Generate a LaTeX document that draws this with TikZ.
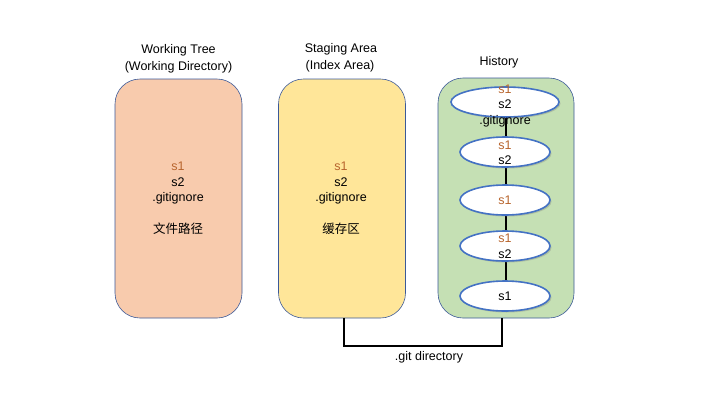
\documentclass[tikz,border=0pt]{standalone}
\usepackage{fontspec}
\setmainfont{Liberation Sans}
\newfontfamily\cjk{Noto Sans CJK SC}
\usetikzlibrary{shapes.geometric,shadows}
\definecolor{boxline}{HTML}{3B5998}
\definecolor{orangefill}{HTML}{F8CBAD}
\definecolor{yellowfill}{HTML}{FFE699}
\definecolor{greenfill}{HTML}{C5E0B4}
\definecolor{ellline}{HTML}{4472C4}
\definecolor{sone}{HTML}{B8652E}
\begin{document}
\begin{tikzpicture}[x=1pt,y=-1pt,
  every node/.style={font=\fontsize{12.5}{14}\selectfont, inner sep=0pt},
  area/.style={draw=boxline, line width=0.6pt, rounded corners=25pt, minimum width=127pt, minimum height=239pt},
  commit/.style={ellipse, draw=ellline, line width=1.6pt, fill=white, minimum width=90pt, minimum height=30pt,
     drop shadow={opacity=0.35, shadow xshift=1.5pt, shadow yshift=-1.5pt}},
  sn/.style={text=sone},
  link/.style={line width=1.5pt, black}]
\useasboundingbox (0,0) rectangle (720,405);
% areas
\node[area, fill=orangefill] (b1) at (178.5,198.5) {};
\node[area, fill=yellowfill] (b2) at (342,198.5) {};
\node[area, fill=greenfill, minimum width=136pt, minimum height=240pt] (b3) at (506,198) {};
% titles
\node (t1a) at (178.5,50) {Working Tree};
\node (t1b) at (178.5,67) {(Working Directory)};
\node (t2a) at (341,49) {Staging Area};
\node (t2b) at (340,66) {(Index Area)};
\node (t3) at (499,62) {History};
% area contents
\node[sn] (w1) at (178,166) {s1};
\node (w2) at (178,182) {s2};
\node (w3) at (178,198) {.gitignore};
\node (w4) at (178,229) {\cjk 文件路径};
\node[sn] (i1) at (341,166) {s1};
\node (i2) at (341,182) {s2};
\node (i3) at (341,198) {.gitignore};
\node (i4) at (341,229) {\cjk 缓存区};
% commits
\coordinate (ctop) at (506,102);
\coordinate (cbot) at (506,296);
\draw[link] (ctop) -- (cbot);
\node[commit, minimum width=108pt] (c1) at (505,102) {};
\node[commit] (c2) at (505,152) {};
\node[commit] (c3) at (505,200) {};
\node[commit] (c4) at (505,246) {};
\node[commit] (c5) at (505,296) {};
\node[sn] (c1a) at (505,89) {s1};
\node (c1b) at (505,104) {s2};
\node (c1c) at (505,121) {.gitignore};
\node[sn] (c2a) at (505,145) {s1};
\node (c2b) at (505,160) {s2};
\node[sn] (c3a) at (505,200) {s1};
\node[sn] (c4a) at (505,238) {s1};
\node (c4b) at (505,254) {s2};
\node (c5a) at (505,296) {s1};
% git directory bracket
\coordinate (g1) at (344,318);
\coordinate (g2) at (502,318);
\draw[link] (g1) -- ++(0,28) coordinate (g1b) -| (g2);
\node (gl) at (429,357) {.git directory};
\end{tikzpicture}
\end{document}
